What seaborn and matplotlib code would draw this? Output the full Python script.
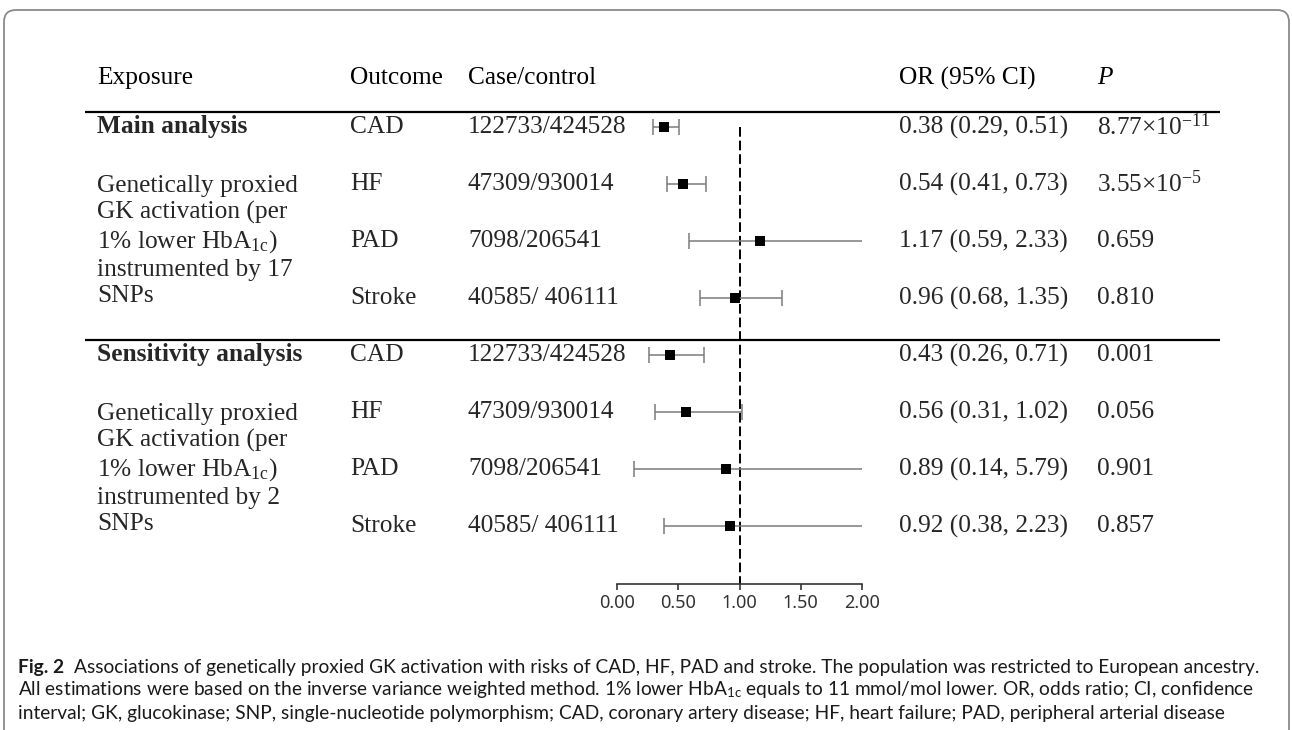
import numpy as np
import pandas as pd
import matplotlib
matplotlib.use("Agg")
import matplotlib.pyplot as plt
import seaborn as sns
from matplotlib.patches import FancyBboxPatch

# --- DATA ---
outcomes = ["CAD", "HF", "PAD", "Stroke", "CAD", "HF", "PAD", "Stroke"]
case_control = ["122733/424528", "47309/930014", "7098/206541", "40585/ 406111",
                "122733/424528", "47309/930014", "7098/206541", "40585/ 406111"]
or_est = [0.38, 0.54, 1.17, 0.96, 0.43, 0.56, 0.89, 0.92]
ci_low = [0.29, 0.41, 0.59, 0.68, 0.26, 0.31, 0.14, 0.38]
ci_high = [0.51, 0.73, 2.33, 1.35, 0.71, 1.02, 5.79, 2.23]
p_labels = [r"8.77×$10^{\mathrm{-11}}$", r"3.55×$10^{\mathrm{-5}}$", "0.659", "0.810",
            "0.001", "0.056", "0.901", "0.857"]
groups = ["Main analysis", "Sensitivity analysis"]
group_desc = ["Genetically proxied\nGK activation (per\n1% lower HbA$_{\\mathrm{1c}}$)\ninstrumented by 17\nSNPs",
              "Genetically proxied\nGK activation (per\n1% lower HbA$_{\\mathrm{1c}}$)\ninstrumented by 2\nSNPs"]
headers = ["Exposure", "Outcome", "Case/control", "OR (95% CI)", "P"]
x_ticks = [0.0, 0.5, 1.0, 1.5, 2.0]

caption = [
    "Associations of genetically proxied GK activation with risks of CAD, HF, PAD and stroke. The population was restricted to European ancestry.",
    "All estimations were based on the inverse variance weighted method. 1% lower HbA$_{\\mathsf{1c}}$ equals to 11 mmol/mol lower. OR, odds ratio; CI, confidence",
    "interval; GK, glucokinase; SNP, single-nucleotide polymorphism; CAD, coronary artery disease; HF, heart failure; PAD, peripheral arterial disease",
]

df = pd.DataFrame({"outcome": outcomes, "cc": case_control, "or": or_est,
                   "lo": ci_low, "hi": ci_high, "p": p_labels})
df["row"] = np.arange(len(df))

# --- LAYOUT (pixels) ---
W, H = 1292, 730
ROW0 = 127      # pixel y of first row
ROW_H = 57      # pixel spacing between rows
COL_X = [97, 350, 468, 899, 1097]
FS = 18.3

def row_px(r):
    return ROW0 + r * ROW_H

sns.set_theme(style="white")
plt.rcParams["font.family"] = ["Liberation Serif", "DejaVu Serif"]
plt.rcParams["mathtext.fontset"] = "custom"
plt.rcParams["mathtext.rm"] = "Liberation Serif"
plt.rcParams["mathtext.it"] = "Liberation Serif:italic"
plt.rcParams["mathtext.bf"] = "Liberation Serif:bold"
plt.rcParams["mathtext.sf"] = "Lato"

fig = plt.figure(figsize=(W / 100, H / 100), dpi=100)

# background axes in pixel coordinates
bg = fig.add_axes([0, 0, 1, 1])
bg.set_xlim(0, W)
bg.set_ylim(H, 0)
bg.axis("off")

# outer rounded frame
frame = FancyBboxPatch((4, 10), W - 7, H + 40, boxstyle="round,pad=0,rounding_size=12",
                       fill=False, edgecolor="#8a8a8a", linewidth=1.3, clip_on=True)
bg.add_patch(frame)

# header
for hx, h in zip(COL_X, headers):
    bg.text(hx, 78, h, fontsize=FS, va="center", ha="left",
            style="italic" if h == "P" else "normal", color="black")

# horizontal rules
for r in [0, 4]:
    bg.plot([85, 1220], [row_px(r) - 15, row_px(r) - 15], color="black", lw=1.6,
            solid_capstyle="butt")

# group labels and descriptions
for g, (name, desc) in enumerate(zip(groups, group_desc)):
    bg.text(COL_X[0], row_px(4 * g), name, fontsize=FS, fontweight="bold", va="center")
    bg.text(COL_X[0], row_px(4 * g + 2), desc, fontsize=FS, va="center", linespacing=1.23)

# table columns
for _, rw in df.iterrows():
    y = row_px(rw["row"])
    bg.text(COL_X[1], y, rw["outcome"], fontsize=FS, va="center")
    bg.text(COL_X[2], y, rw["cc"], fontsize=FS, va="center")
    bg.text(COL_X[3], y, f"{rw['or']:.2f} ({rw['lo']:.2f}, {rw['hi']:.2f})", fontsize=FS, va="center")
    bg.text(COL_X[4], y, rw["p"], fontsize=FS, va="center")

# caption
cap_fs = 13.8
cap_col = "#1a1a1a"
t1 = bg.text(18, 667, "Fig. 2", fontsize=cap_fs, family="Lato", fontweight="bold",
             va="center", color=cap_col)
bg.annotate(caption[0], xy=(1, 0.5), xycoords=t1, xytext=(7, 0), textcoords="offset points",
            fontsize=cap_fs, family="Lato", va="center", color=cap_col)
bg.text(18, 690, caption[1], fontsize=cap_fs, family="Lato", va="center", color=cap_col)
bg.text(18, 713, caption[2], fontsize=cap_fs, family="Lato", va="center", color=cap_col)

# forest axes
x0_px, x1_px = 617, 862
top_px, bot_px = 112, 584
ax = fig.add_axes([x0_px / W, 1 - bot_px / H, (x1_px - x0_px) / W, (bot_px - top_px) / H])
ax.patch.set_alpha(0)
ax.set_xlim(0, 2)
ax.set_ylim((bot_px - ROW0) / ROW_H, (top_px - ROW0) / ROW_H)

ax.errorbar(df["or"], df["row"], xerr=[df["or"] - df["lo"], df["hi"] - df["or"]],
            fmt="none", ecolor="#7a7a7a", elinewidth=1.1, capsize=6, capthick=1.1, zorder=2)
sns.scatterplot(data=df, x="or", y="row", marker="s", s=52, color="black",
                edgecolor="black", linewidth=0, ax=ax, zorder=3, legend=False)
ax.vlines(1.0, df["row"].min(), ax.get_ylim()[0], colors="black", lw=1.4,
          linestyles=(0, (5, 2)), zorder=1)

for s in ["top", "right", "left"]:
    ax.spines[s].set_visible(False)
ax.spines["bottom"].set_color("#333333")
ax.spines["bottom"].set_linewidth(1.2)
ax.set_yticks([])
ax.set_xticks(x_ticks)
ax.set_xticklabels([f"{t:.2f}" for t in x_ticks], family="Noto Sans", fontsize=13, color="#333333")
ax.tick_params(axis="x", direction="out", length=4, width=1.2, color="#333333", pad=3,
               bottom=True)
ax.set_xlabel("")
ax.set_ylabel("")
ax.grid(False)

fig.savefig("out.png", dpi=100)
